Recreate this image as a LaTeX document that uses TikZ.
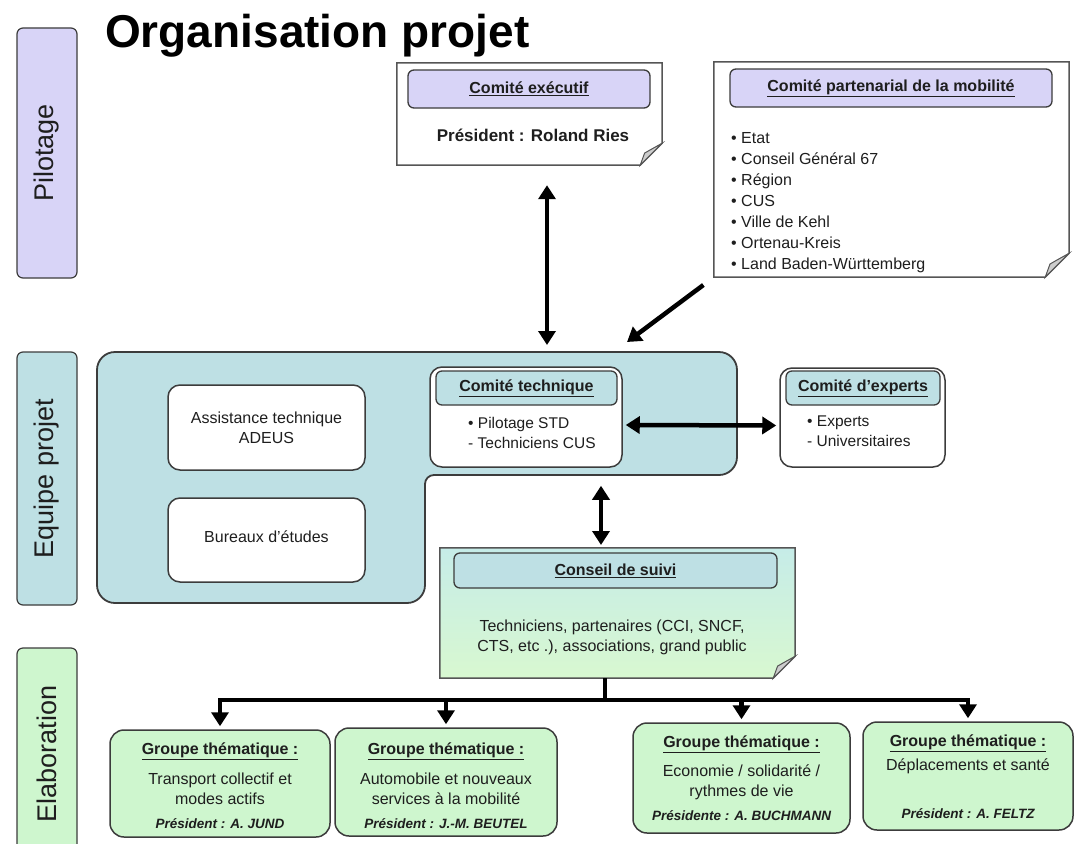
\documentclass[tikz,border=0pt]{standalone}
\usepackage{fontspec}
\setmainfont{Liberation Sans}
\usetikzlibrary{arrows.meta}

\definecolor{lav}{RGB}{216,212,247}
\definecolor{teal}{RGB}{190,224,228}
\definecolor{grn}{RGB}{206,246,206}
\definecolor{cstop}{RGB}{198,236,232}
\definecolor{csbot}{RGB}{216,248,208}
\definecolor{bord}{RGB}{60,60,60}
\definecolor{notebord}{RGB}{85,85,85}
\definecolor{foldgray}{RGB}{205,205,205}
\definecolor{ink}{RGB}{30,30,30}

\newcommand\fsz[2]{\fontsize{#1}{#2}\selectfont}

% note sheet with a curled bottom-right corner, drawn around node #1
\newcommand\foldnote[3]{%
  \filldraw[#2, draw=notebord, line width=1.5pt]
    (#1.north west) -- (#1.north east) -- ([yshift=#3pt]#1.south east)
    -- ([xshift=-#3pt]#1.south east) -- (#1.south west) -- cycle;
  \filldraw[fill=foldgray, draw=notebord, line width=1pt]
    ([yshift=#3pt]#1.south east)
    .. controls ([xshift={-0.45*#3pt}, yshift={0.75*#3pt}]#1.south east) ..
    ([xshift={-0.8*#3pt}, yshift={0.55*#3pt}]#1.south east)
    -- ([xshift=-#3pt]#1.south east) -- cycle;
}

\begin{document}
\begin{tikzpicture}[x=1pt,y=-1pt,
  holder/.style={draw=none, inner sep=0pt},
  sidebox/.style={draw=bord, line width=1.2pt, rounded corners=6pt, rotate=90,
    minimum height=60, inner sep=0pt, text=ink, font=\fsz{27}{30}},
  headbar/.style={draw=bord, line width=1.3pt, rounded corners=6pt, inner sep=0pt},
  whitebox/.style={draw=bord, fill=white, line width=1.5pt, rounded corners=12pt, inner sep=0pt},
  grpbox/.style={draw=bord, fill=grn, line width=1.5pt, rounded corners=14pt, inner sep=0pt},
  hd/.style={font=\bfseries\fsz{16}{20}, text=ink, inner sep=0pt},
  txt/.style={font=\fsz{16}{20}, text=ink, align=center, inner sep=0pt},
  lst/.style={font=\fsz{15.5}{20}, text=ink, align=left, inner sep=0pt, anchor=north west},
  pres/.style={font=\bfseries\itshape\fsz{13.5}{16}, text=ink, inner sep=0pt},
  link/.style={line width=4.5pt, draw=black},
  arr/.style={link, -{Triangle[length=14pt,width=17pt]}},
  darr/.style={link, {Triangle[length=14pt,width=17pt]}-{Triangle[length=14pt,width=17pt]}}
]
\useasboundingbox (0,0) rectangle (1083,843);
\fill[white] (0,0) rectangle (1083,843);

% title
\node[anchor=base west, inner sep=0pt, font=\bfseries\fsz{46}{50}] (title) at (105,48) {Organisation projet};

% level labels on the left
\node[sidebox, fill=lav, minimum width=250] (lpil) at (47,153) {Pilotage};
\node[sidebox, fill=teal, minimum width=253] (lequ) at (47,478.5) {Equipe projet};
\node[sidebox, fill=grn, minimum width=212] (lela) at (47,754) {Elaboration};

% ---- Pilotage ----
\node[holder, minimum width=265, minimum height=102] (exec) at (529.5,114) {};
\foldnote{exec}{fill=white}{22}
\node[headbar, fill=lav, minimum width=242, minimum height=38] (execH) at (529,89) {};
\node[hd] (execT) at (529,89) {\underline{Comité exécutif}};
\node[hd, font=\bfseries\fsz{17}{20}] (execP) at (533,135) {Président : Roland Ries};

\node[holder, minimum width=355, minimum height=215] (part) at (891.5,169.5) {};
\foldnote{part}{fill=white}{24}
\node[headbar, fill=lav, minimum width=322, minimum height=38] (partH) at (891,88) {};
\node[hd] (partT) at (891,88) {\underline{Comité partenarial de la mobilité}};
\node[lst, font=\fsz{16}{21}] (partL) at (731,132) {%
  • Etat\\ • Conseil Général 67\\ • Région\\ • CUS\\ • Ville de Kehl\\
  • Ortenau-Kreis\\ • Land Baden-Württemberg};

% ---- Equipe projet ----
\filldraw[fill=teal, draw=bord, line width=1.8pt, rounded corners=18pt]
  (97,352) -- (737,352) -- (737,475) [rounded corners=9pt] -- (425,475)
  [rounded corners=18pt] -- (425,603) -- (97,603) -- cycle;
\coordinate (eqtop) at (547,352);
\coordinate (eqdiag) at (627,342);

\node[whitebox, minimum width=197, minimum height=85] (assist) at (266.5,427.5) {};
\node[txt] (assistT) at (266.5,427.5) {Assistance technique\\ADEUS};
\node[whitebox, minimum width=197, minimum height=84] (bureau) at (266.5,540) {};
\node[txt] (bureauT) at (266.5,537) {Bureaux d'études};

\node[whitebox, minimum width=192, minimum height=100] (tech) at (526,417) {};
\node[headbar, fill=teal, minimum width=181, minimum height=34] (techH) at (526.5,388) {};
\node[hd] (techT) at (526.5,388) {\underline{Comité technique}};
\node[lst] (techL) at (468,417) {• Pilotage STD\\ - Techniciens CUS};

\node[whitebox, minimum width=165, minimum height=99] (expert) at (862.5,417.5) {};
\node[headbar, fill=teal, minimum width=154, minimum height=34] (expertH) at (863,388) {};
\node[hd] (expertT) at (863,388) {\underline{Comité d'experts}};
\node[lst] (expertL) at (807,416) {• Experts\\ - Universitaires};

% ---- Conseil de suivi ----
\node[holder, minimum width=355, minimum height=130] (conseil) at (617.5,613) {};
\foldnote{conseil}{top color=cstop, bottom color=csbot}{22}
\node[headbar, fill=teal, minimum width=323, minimum height=35] (conseilH) at (615.5,570.5) {};
\node[hd] (conseilT) at (615.5,570.5) {\underline{Conseil de suivi}};
\node[txt] (conseilX) at (612,637) {Techniciens, partenaires (CCI, SNCF,\\CTS, etc .), associations, grand public};
\coordinate (cs) at (601,548);

% ---- Elaboration: thematic groups ----
\node[grpbox, minimum width=220, minimum height=107] (g1) at (220,783.5) {};
\node[hd] at (220,751) {\underline{Groupe thématique :}};
\node[txt] at (220,789) {Transport collectif et\\modes actifs};
\node[pres] at (220,824) {Président : A. JUND};

\node[grpbox, minimum width=222, minimum height=108] (g2) at (446,782) {};
\node[hd] at (446,751) {\underline{Groupe thématique :}};
\node[txt] at (446,789) {Automobile et nouveaux\\services à la mobilité};
\node[pres] at (446,824) {Président : J.-M. BEUTEL};

\node[grpbox, minimum width=217, minimum height=110] (g3) at (741.5,778) {};
\node[hd] at (741.5,744) {\underline{Groupe thématique :}};
\node[txt] at (741.5,782) {Economie / solidarité /\\rythmes de vie};
\node[pres] at (741.5,816) {Présidente : A. BUCHMANN};

\node[grpbox, minimum width=210, minimum height=108] (g4) at (968,776) {};
\node[hd] at (968,743) {\underline{Groupe thématique :}};
\node[txt] at (968,766) {Déplacements et santé};
\node[pres] at (968,814) {Président : A. FELTZ};

% ---- connectors ----
\draw[darr, shorten <=20pt, shorten >=7pt] (exec.south -| eqtop) -- (eqtop);
\draw[arr, shorten <=13pt] (part.south west) -- (eqdiag);
\draw[darr, shorten <=3pt, shorten >=3pt] ([yshift=-8pt]tech.east) -- ([yshift=-8pt]expert.west);
\draw[darr, shorten <=18pt, shorten >=3pt] (tech.south -| cs) -- (cs);

\coordinate (junc) at (605,700);
\draw[link] (conseil.south -| junc) -- (junc);
\foreach \g in {g1,g2,g3,g4}
  \draw[arr, shorten >=3pt] (junc) -| (\g.north);
\end{tikzpicture}
\end{document}
